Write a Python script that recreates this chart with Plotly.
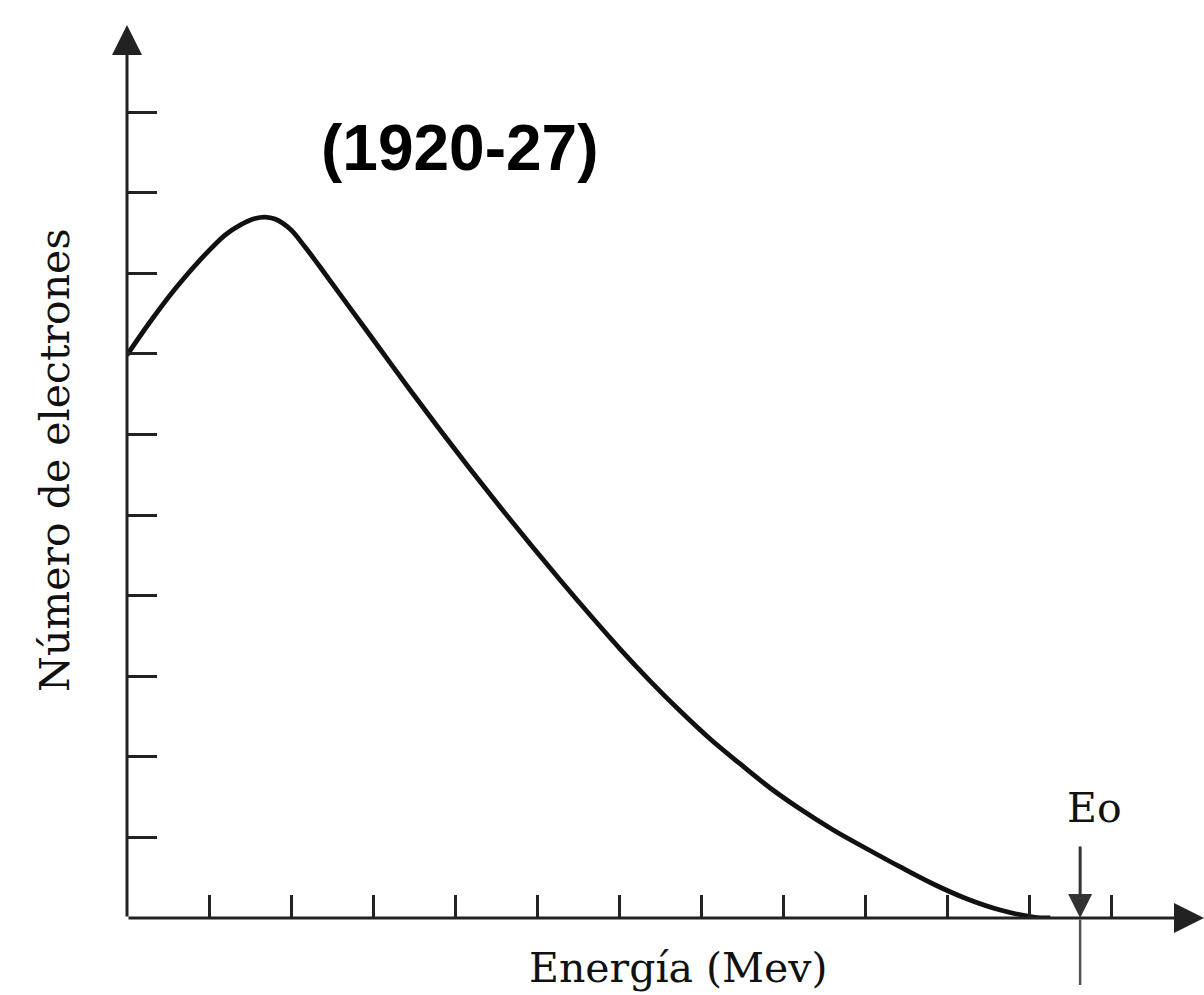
import plotly.graph_objects as go

# Data (axis units = tick spacings)
energy = [0.0, 0.28, 0.585, 0.89, 1.195, 1.378, 1.561, 1.683, 1.805, 1.988, 2.171, 2.354,
          2.72, 3.085, 3.451, 3.817, 4.183, 4.549, 4.915, 5.28, 5.646, 6.012, 6.378, 6.744,
          7.11, 7.476, 7.841, 8.207, 8.61, 9.024, 9.427, 9.829, 10.244, 10.646, 11.049, 11.256]
electrons = [6.985, 7.395, 7.804, 8.164, 8.474, 8.598, 8.679, 8.697, 8.672, 8.548, 8.325, 8.077,
             7.568, 7.06, 6.551, 6.055, 5.571, 5.099, 4.64, 4.194, 3.759, 3.337, 2.94, 2.568,
             2.221, 1.911, 1.613, 1.352, 1.092, 0.856, 0.633, 0.422, 0.236, 0.099, 0.012, 0.0]
x_ticks = [1, 2, 3, 4, 5, 6, 7, 8, 9, 10, 11, 12]
y_ticks = [1, 2, 3, 4, 5, 6, 7, 8, 9, 10]
e0 = 11.62
x_max = 13.13
y_max = 11.08

title_text = "<b>(1920-27)</b>"
x_title = "Energía (Mev)"
y_title = "Número de electrones"
e0_label = "Eo"

fig = go.Figure()
fig.add_trace(go.Scatter(
    x=energy, y=electrons, mode="lines",
    line=dict(color="#111111", width=4.8, shape="spline", smoothing=1.0),
    hoverinfo="skip", showlegend=False,
))

serif = "DejaVu Serif, serif"
axis_col = "#222222"

annotations = [
    # y axis with arrow
    dict(x=0, y=y_max, ax=0, ay=0, xref="x", yref="y", axref="x", ayref="y", text="",
         showarrow=True, arrowhead=2, arrowsize=2, arrowwidth=3, arrowcolor=axis_col, standoff=0),
    # x axis with arrow
    dict(x=x_max, y=0, ax=0, ay=0, xref="x", yref="y", axref="x", ayref="y", text="",
         showarrow=True, arrowhead=2, arrowsize=2, arrowwidth=3, arrowcolor=axis_col, standoff=0),
    # Eo arrow
    dict(x=e0, y=0, ax=e0, ay=0.906, xref="x", yref="y", axref="x", ayref="y", text="",
         showarrow=True, arrowhead=2, arrowsize=1.6, arrowwidth=3, arrowcolor="#333333", standoff=0),
    dict(x=e0, y=-0.83, ax=e0, ay=0, xref="x", yref="y", axref="x", ayref="y", text="",
         showarrow=True, arrowhead=0, arrowwidth=2.5, arrowcolor="#555555", standoff=0),
    # texts
    dict(x=4.06, y=9.55, xref="x", yref="y", text=title_text, showarrow=False,
         font=dict(family="Arial, Liberation Sans, sans-serif", size=64, color="black"),
         xanchor="center", yanchor="middle"),
    dict(x=0.5116, y=-0.056, xref="paper", yref="paper", text=x_title, showarrow=False,
         font=dict(family=serif, size=41, color="#111111"), xanchor="center", yanchor="middle"),
    dict(x=-0.0669, y=0.5129, xref="paper", yref="paper", text=y_title, showarrow=False,
         textangle=-90,
         font=dict(family=serif, size=41, color="#111111"), xanchor="center", yanchor="middle"),
    dict(x=11.79, y=1.365, xref="x", yref="y", text=e0_label, showarrow=False,
         font=dict(family=serif, size=41, color="#111111"), xanchor="center", yanchor="middle"),
]

fig.update_layout(
    width=1204, height=995,
    margin=dict(l=127, r=0, t=25, b=77, pad=0),
    paper_bgcolor="white", plot_bgcolor="white",
    showlegend=False, hovermode=False,
    annotations=annotations,
    xaxis=dict(range=[0, x_max], showgrid=False, zeroline=False, showline=False,
               tickvals=x_ticks, ticks="inside", ticklen=23, tickwidth=3, tickcolor=axis_col,
               showticklabels=False, fixedrange=True),
    yaxis=dict(range=[0, y_max], showgrid=False, zeroline=False, showline=False,
               tickvals=y_ticks, ticks="inside", ticklen=30, tickwidth=3, tickcolor=axis_col,
               showticklabels=False, fixedrange=True),
)

fig.write_html("out.html", config={"displayModeBar": False})
